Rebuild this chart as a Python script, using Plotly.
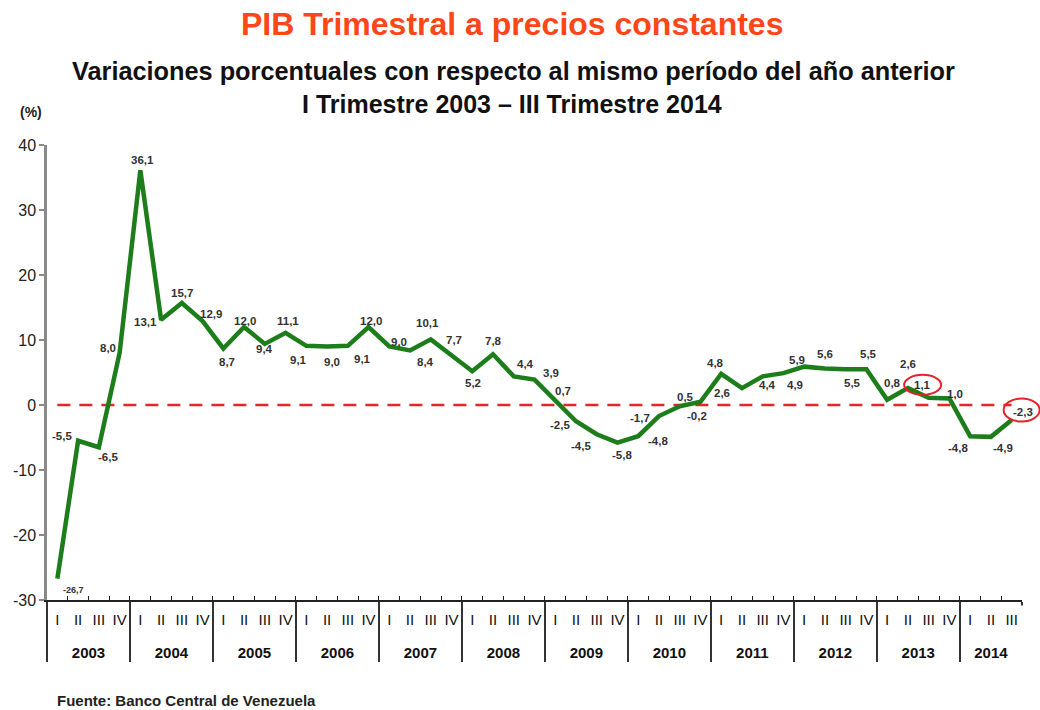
import plotly.graph_objects as go

# ---------------- data ----------------
years = ["2003", "2004", "2005", "2006", "2007", "2008",
         "2009", "2010", "2011", "2012", "2013", "2014"]
quarters = ["I", "II", "III", "IV"]
values = [-26.7, -5.5, -6.5, 8.0,
          36.1, 13.1, 15.7, 12.9,
          8.7, 12.0, 9.4, 11.1,
          9.1, 9.0, 9.1, 12.0,
          9.0, 8.4, 10.1, 7.7,
          5.2, 7.8, 4.4, 3.9,
          0.7, -2.5, -4.5, -5.8,
          -4.8, -1.7, -0.2, 0.5,
          4.8, 2.6, 4.4, 4.9,
          5.9, 5.6, 5.5, 5.5,
          0.8, 2.6, 1.1, 1.0,
          -4.8, -4.9, -2.3]
y_ticks = [-30, -20, -10, 0, 10, 20, 30, 40]
highlighted = [42, 46]   # indices of circled values

# label offsets (pixels, relative to each point; dy positive = downwards)
label_dx = [16, -16, 9, -12, 2, -16, 0, 8, 4, 1, 0, 2, -8, 5, 15, 2,
            10, 15, -3, 2, 1, 0, 12, 16, 8, -16, -16, 5, 20, -19, 17, -15,
            -6, -20, 5, 12, -7, 0, 7, 2, 5, 0, -6, 6, -12, 12, 11]
label_dy = [11, -5, 10, -5, -10, 2, -10, -7, 14, -6, 5, -12, 14, 15, 13, -6,
            -5, 12, -16, -15, 12, -13, -12, -7, -9, 4, 12, 12, 5, 2, 10, -5,
            -11, 5, 9, 12, -7, -15, 14, -15, -17, -24, -13, -5, 12, 11, -8]
circle_offsets = [(-6, 13, 18.5, 10), (10, 10, 18, 11.5)]  # dx, up, rx, ry

n = len(values)
x_year = ["<br><b>" + years[i // 4] + "</b>" for i in range(n)]
x_quarter = [quarters[i % 4] for i in range(n)]

FONT = "Liberation Sans, Arial, sans-serif"

fig = go.Figure()

# zero reference line
fig.add_trace(go.Scatter(
    x=[x_year, x_quarter], y=[0] * n, mode="lines",
    line=dict(color="#e4262b", width=2.6, dash="13px,9px"),
    hoverinfo="skip", showlegend=False))

# main series
fig.add_trace(go.Scatter(
    x=[x_year, x_quarter], y=values, mode="lines",
    line=dict(color="#1c7d1a", width=4.5),
    showlegend=False))

annotations = []
for i, v in enumerate(values):
    txt = "<b>" + f"{v:.1f}".replace(".", ",") + "</b>"
    annotations.append(dict(
        x=i, y=v, xref="x", yref="y", text=txt, showarrow=False,
        xanchor="center", yanchor="middle",
        xshift=label_dx[i], yshift=-label_dy[i],
        font=dict(family=FONT, size=9 if i == 0 else 11.5, color="#333333")))

# titles & notes
annotations += [
    dict(x=0.477, y=1.266, xref="paper", yref="paper", showarrow=False,
         xanchor="center", yanchor="middle",
         text="<b>PIB Trimestral a precios constantes</b>",
         font=dict(family=FONT, size=32, color="#fe4619")),
    dict(x=0.478, y=1.163, xref="paper", yref="paper", showarrow=False,
         xanchor="center", yanchor="middle",
         text="<b>Variaciones porcentuales con respecto al mismo período del año anterior</b>",
         font=dict(family=FONT, size=25.3, color="#111111")),
    dict(x=0.477, y=1.090, xref="paper", yref="paper", showarrow=False,
         xanchor="center", yanchor="middle",
         text="<b>I Trimestre 2003 – III Trimestre 2014</b>",
         font=dict(family=FONT, size=25, color="#111111")),
    dict(x=-0.016, y=1.072, xref="paper", yref="paper", showarrow=False,
         xanchor="center", yanchor="middle",
         text="<b>(%)</b>", font=dict(family=FONT, size=14, color="#222222")),
    dict(x=0.008, y=-0.22, xref="paper", yref="paper", showarrow=False,
         xanchor="left", yanchor="middle",
         text="<b>Fuente: Banco Central de Venezuela</b>",
         font=dict(family=FONT, size=15, color="#222222")),
]

shapes = []
for idx, (dx, up, rx, ry) in zip(highlighted, circle_offsets):
    shapes.append(dict(
        type="circle", xref="paper", yref="y",
        xsizemode="pixel", ysizemode="pixel",
        xanchor=(idx + 0.5) / n, yanchor=values[idx],
        x0=dx - rx, x1=dx + rx, y0=up - ry, y1=up + ry,
        line=dict(color="#e8202a", width=2)))
# mask the closing divider at the right end of the axis (not in the original)
shapes.append(dict(
    type="rect", xref="paper", yref="paper", layer="above",
    x0=0.996, x1=1.01, y0=-0.012, y1=-0.2,
    fillcolor="white", line=dict(width=0)))

fig.update_layout(
    width=1040, height=710,
    margin=dict(l=47, r=18, t=145, b=110, autoexpand=False),
    paper_bgcolor="white", plot_bgcolor="white",
    font=dict(family=FONT, color="#222222"),
    annotations=annotations, shapes=shapes,
    xaxis=dict(
        type="multicategory", range=[-0.5, n - 0.5], automargin=False,
        tickangle=0, ticklabelstandoff=5,
        showline=True, linecolor="#222222", linewidth=1.5,
        ticks="inside", ticklen=4, tickcolor="#222222", tickwidth=1.2,
        showdividers=True, dividercolor="#333333", dividerwidth=2,
        showgrid=False, zeroline=False,
        tickfont=dict(family=FONT, size=15, color="#111111")),
    yaxis=dict(
        range=[-30, 40], showgrid=False, zeroline=False,
        tickmode="array", tickvals=y_ticks,
        ticktext=[str(t) for t in y_ticks],
        automargin=False,
        showline=True, linecolor="#8a8a8a", linewidth=2.5,
        ticks="outside", ticklen=5, tickcolor="#8a8a8a", tickwidth=1.5,
        tickfont=dict(family=FONT, size=16, color="#222222")),
)

fig.write_html("out.html", config={"displayModeBar": False},
               post_script="document.body.style.margin='0';")
